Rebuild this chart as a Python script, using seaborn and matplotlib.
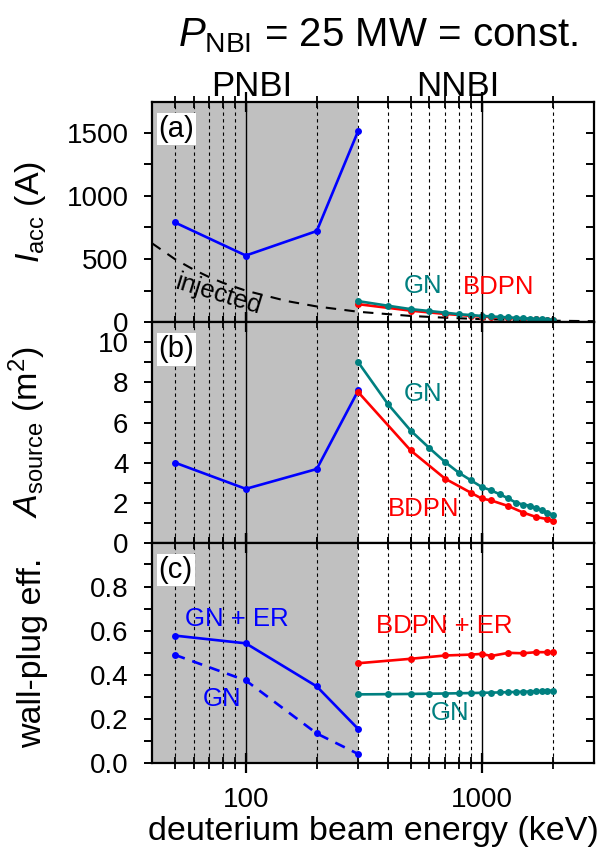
import numpy as np
import pandas as pd
import matplotlib
matplotlib.use("Agg")
import matplotlib.pyplot as plt
import seaborn as sns
from matplotlib.ticker import FixedLocator, NullFormatter, FixedFormatter

# ---------------- data ----------------
pnbi_E = [50, 100, 200, 300]
pnbi_I = [790, 528, 722, 1516]
pnbi_A = [4.0, 2.69, 3.68, 7.6]
pnbi_eff_er = [0.578, 0.543, 0.348, 0.155]
pnbi_eff_gn = [0.491, 0.375, 0.135, 0.042]

gn_E = [300, 400, 500, 600, 700, 800, 900, 1000, 1100, 1200, 1300, 1400, 1500,
        1600, 1700, 1800, 1900, 2000]
gn_I = [167, 131, 104, 89, 76, 64, 57, 50, 46, 42, 38, 35, 32, 29, 26, 23, 20, 18]
gn_A = [9.0, 6.93, 5.6, 4.73, 4.03, 3.5, 3.12, 2.79, 2.61, 2.41, 2.21, 2.0, 1.91,
        1.85, 1.74, 1.63, 1.51, 1.41]
gn_eff = [0.312, 0.313, 0.314, 0.315, 0.316, 0.317, 0.318, 0.319, 0.320, 0.321,
          0.322, 0.323, 0.324, 0.325, 0.326, 0.327, 0.328, 0.329]

bd_E = [300, 500, 700, 900, 1000, 1100, 1300, 1500, 1700, 1900, 2000]
bd_I = [143, 92, 66, 51, 45, 41, 34, 28, 23, 19, 17]
bd_A = [7.51, 4.61, 3.2, 2.5, 2.21, 2.11, 1.83, 1.51, 1.29, 1.18, 1.1]
bd_eff = [0.453, 0.473, 0.488, 0.492, 0.495, 0.486, 0.5, 0.498, 0.503, 0.503, 0.503]

inj_E = [40, 50, 60, 70, 80, 100, 150, 200, 300, 500, 700, 1000, 1500, 2000, 3000]
inj_I = [625, 500, 417, 357, 312, 250, 167, 125, 83, 50, 36, 25, 17, 12.5, 8.3]

dash_lines = [50, 60, 70, 80, 90, 200, 300, 400, 500, 600, 700, 800, 900, 2000]
solid_lines = [100, 1000]

BLUE = "#0000FF"
TEAL = "#008080"
RED = "#FF0000"
GRAY = "#C0C0C0"

# ---------------- style ----------------
sns.set_style("ticks")
plt.rcParams["font.family"] = ["Liberation Sans", "DejaVu Sans"]
plt.rcParams["mathtext.fontset"] = "custom"
plt.rcParams["mathtext.rm"] = "Liberation Sans"
plt.rcParams["mathtext.it"] = "Liberation Sans:italic"
plt.rcParams["mathtext.bf"] = "Liberation Sans:bold"
plt.rcParams["axes.linewidth"] = 1.6
for k in ["text.color", "axes.labelcolor", "xtick.color", "ytick.color",
          "axes.edgecolor"]:
    plt.rcParams[k] = "black"

fig, axes = plt.subplots(3, 1, figsize=(6.01, 8.57), dpi=100, sharex=True)
fig.subplots_adjust(left=0.2529, right=0.9884, top=0.8813, bottom=0.1093, hspace=0)

TICK_FS = 20
LAB_FS = 24.5
TXT_FS = 18.5
LW = 1.9
MS = 5


def line(ax, x, y, color, ls="-"):
    df = pd.DataFrame({"x": x, "y": y})
    sns.lineplot(data=df, x="x", y="y", ax=ax, color=color, lw=LW, marker="o",
                 markersize=MS, markeredgewidth=0, linestyle=ls, zorder=5)


for ax in axes:
    ax.set_xscale("log")
    ax.set_xlim(40, 3000)
    ax.axvspan(40, 300, color=GRAY, zorder=0, lw=0)
    for v in dash_lines:
        ax.axvline(v, color="black", lw=0.8, ls=(0, (3, 3)), zorder=1)
    for v in solid_lines:
        ax.axvline(v, color="black", lw=1.0, zorder=1)

# panel a
ax = axes[0]
df_inj = pd.DataFrame({"x": inj_E, "y": inj_I})
sns.lineplot(data=df_inj, x="x", y="y", ax=ax, color="black", lw=1.5,
             linestyle=(0, (5, 4)), zorder=4)
line(ax, pnbi_E, pnbi_I, BLUE)
line(ax, bd_E, bd_I, RED)
line(ax, gn_E, gn_I, TEAL)
ax.set_ylim(0, 1745)
ax.yaxis.set_major_locator(FixedLocator([0, 500, 1000, 1500]))
ax.yaxis.set_minor_locator(FixedLocator([250, 750, 1250]))
ax.set_ylabel(r"$I_\mathrm{acc}$ (A)", fontsize=LAB_FS)

# panel b
ax = axes[1]
line(ax, pnbi_E, pnbi_A, BLUE)
line(ax, bd_E, bd_A, RED)
line(ax, gn_E, gn_A, TEAL)
ax.set_ylim(0, 11)
ax.yaxis.set_major_locator(FixedLocator([0, 2, 4, 6, 8, 10]))
ax.yaxis.set_minor_locator(FixedLocator([1, 3, 5, 7, 9]))
ax.set_ylabel(r"$A_\mathrm{source}$ (m$^2$)", fontsize=LAB_FS)

# panel c
ax = axes[2]
line(ax, pnbi_E, pnbi_eff_er, BLUE)
line(ax, pnbi_E, pnbi_eff_gn, BLUE, ls=(0, (4, 3)))
line(ax, bd_E, bd_eff, RED)
line(ax, gn_E, gn_eff, TEAL)
ax.set_ylim(0, 0.998)
ax.yaxis.set_major_locator(FixedLocator([0, 0.2, 0.4, 0.6, 0.8]))
ax.yaxis.set_minor_locator(FixedLocator([0.1, 0.3, 0.5, 0.7, 0.9]))
ax.yaxis.set_major_formatter(FixedFormatter(["0.0", "0.2", "0.4", "0.6", "0.8"]))
ax.set_ylabel("wall-plug eff.", fontsize=LAB_FS)
ax.set_xlabel("deuterium beam energy (keV)", fontsize=LAB_FS, labelpad=2)

# ticks
for i, ax in enumerate(axes):
    ax.xaxis.set_major_locator(FixedLocator([100, 1000]))
    ax.xaxis.set_minor_locator(FixedLocator([50, 60, 70, 80, 90, 200, 300, 400, 500,
                                             600, 700, 800, 900, 2000]))
    ax.xaxis.set_minor_formatter(NullFormatter())
    ax.xaxis.set_major_formatter(FixedFormatter(["100", "1000"]))
    ax.tick_params(axis="x", which="major", direction="inout", length=14, width=1.6,
                   top=True, labelsize=TICK_FS, pad=10)
    ax.tick_params(axis="x", which="minor", direction="inout", length=8, width=1.3,
                   top=True)
    ax.tick_params(axis="y", which="both", direction="out", length=6, width=1.4,
                   labelsize=TICK_FS, pad=11)
    sec = ax.secondary_yaxis("right")
    sec.yaxis.set_major_locator(FixedLocator(ax.yaxis.get_majorticklocs()))
    sec.yaxis.set_minor_locator(FixedLocator(ax.yaxis.get_minorticklocs()))
    sec.tick_params(which="both", direction="in", length=6, width=1.4,
                    labelright=False)
    sec.spines["right"].set_visible(False)
    for s in ax.spines.values():
        s.set_visible(True)
        s.set_linewidth(1.6)
        s.set_zorder(10)
    ax.yaxis.set_label_coords(-0.235, 0.5)
    if i < 2:
        ax.set_xlabel("")
        ax.tick_params(axis="x", which="both", labelbottom=False)
    ax.text(0.015, 0.94, "(" + "abc"[i] + ")", transform=ax.transAxes,
            fontsize=21, ha="left", va="top", zorder=12,
            bbox=dict(facecolor="white", edgecolor="none", pad=1.5))

# annotations (figure pixel coords converted)
W, H = 601, 857


def ftext(x, y, s, color, **kw):
    fig.text(x / W, 1 - y / H, s, color=color, fontsize=TXT_FS, ha="center",
             va="center", **kw)


ftext(423, 286, "GN", TEAL)
ftext(499, 287, "BDPN", RED)
ftext(423, 394, "GN", TEAL)
ftext(424, 509, "BDPN", RED)
ftext(237, 619, "GN + ER", BLUE)
ftext(222, 699, "GN", BLUE)
ftext(444, 626, "BDPN + ER", RED)
ftext(450, 713, "GN", TEAL)
ftext(218, 295, "injected", "black", rotation=-17)

fig.text(378 / W, 1 - 36 / H, r"$P_\mathrm{NBI}$ = 25 MW = const.", fontsize=29,
         ha="center", va="center")
fig.text(252 / W, 1 - 86 / H, "PNBI", fontsize=25, ha="center", va="center")
fig.text(458 / W, 1 - 86 / H, "NNBI", fontsize=25, ha="center", va="center")

fig.savefig("out.png", dpi=100)
